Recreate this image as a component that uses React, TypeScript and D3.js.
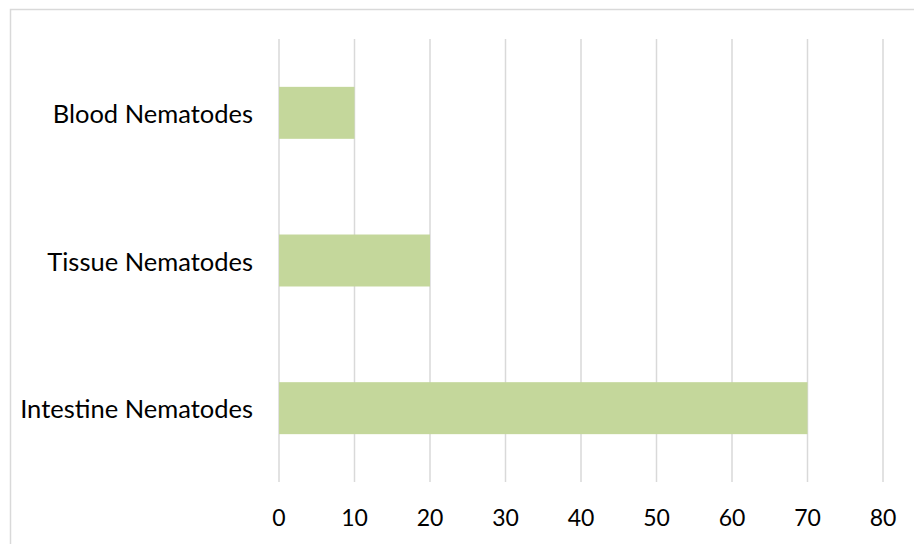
import React from "react";
import * as d3 from "d3";

const categories = ["Blood Nematodes", "Tissue Nematodes", "Intestine Nematodes"];
const values = [10, 20, 70];
const xTicks = [0, 10, 20, 30, 40, 50, 60, 70, 80];

export default function App() {
  const W = 914, H = 544;
  const x = d3.scaleLinear().domain([0, 80]).range([279, 883]);
  const y = d3.scaleBand<string>().domain(categories).range([39, 482]).padding(0);
  const bw = y.bandwidth();
  const barH = bw * 0.352;
  const font = "Lato, sans-serif";
  return (
    <svg width={W} height={H} style={{ position: "absolute", left: 0, top: 0 }}>
      <rect x={0} y={0} width={W} height={H} fill="#fff" />
      <rect x={10.5} y={9.5} width={W + 20} height={H + 20} fill="none" stroke="#d9d9d9" strokeWidth={1.5} />
      {xTicks.map((t) => (
        <line key={t} x1={x(t)} x2={x(t)} y1={39} y2={482} stroke="#d9d9d9" strokeWidth={1.5} />
      ))}
      {categories.map((c, i) => (
        <rect key={c} x={x(0)} y={(y(c) as number) + (bw - barH) / 2} width={x(values[i]) - x(0)} height={barH} fill="#c4d79b" />
      ))}
      {categories.map((c) => (
        <text key={c} x={253} y={(y(c) as number) + bw / 2} textAnchor="end" dominantBaseline="central" fontFamily={font} fontSize={25.5} fill="#000">
          {c}
        </text>
      ))}
      {xTicks.map((t) => (
        <text key={t} x={x(t)} y={517} textAnchor="middle" dominantBaseline="central" fontFamily={font} fontSize={23} fill="#000">
          {t}
        </text>
      ))}
    </svg>
  );
}
